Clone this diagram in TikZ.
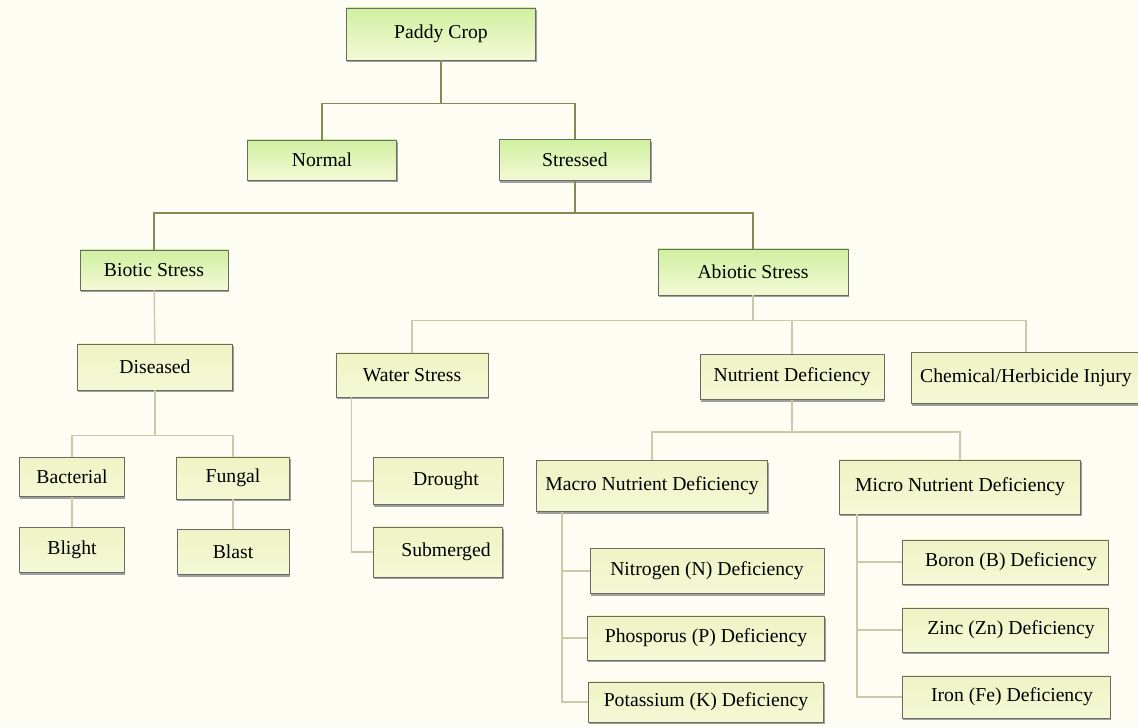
\documentclass[tikz,border=0pt]{standalone}
\usepackage{fontspec}
\setmainfont{Liberation Serif}
\usepackage{tikz}
\usepackage{xcolor}
\usetikzlibrary{positioning, shadows}
\definecolor{paddybg}{RGB}{253, 253, 244}
\definecolor{paddyedge}{RGB}{105, 108, 96}
\definecolor{paddygreen}{RGB}{208, 240, 160}
\definecolor{paddypale}{RGB}{244, 249, 214}
\definecolor{paddyyellow}{RGB}{238, 244, 196}
\definecolor{paddyline}{RGB}{128, 140, 84}
\definecolor{paddylight}{RGB}{196, 204, 170}

\begin{document}
\begin{tikzpicture}[x=0.025cm, y=-0.025cm,
    every node/.style={align=center, font=\fontsize{14}{16}\selectfont},
    box/.style={draw=paddyedge, line width=0.6pt, top color=paddygreen, bottom color=paddypale,
      inner sep=2pt, drop shadow={shadow xshift=0.7pt, shadow yshift=-1.5pt, opacity=0.75}},
    palebox/.style={box, top color=paddyyellow, bottom color=paddypale},
    link/.style={draw=paddyline, line width=1.2pt},
    lightlink/.style={draw=paddylight, line width=1pt}]
    \fill[paddybg] (0,0) rectangle (1138,727);
    \clip (0,0) rectangle (1138,727);

    % top levels
    \node[box, minimum width=4.725cm, minimum height=1.3cm] (paddy) at (441,34) {Paddy Crop};
    \node[box, minimum width=3.725cm, minimum height=1cm] (normal) at (322,160) {Normal};
    \node[box, minimum width=3.775cm, minimum height=1.025cm] (stressed) at (575,160) {Stressed};
    \node[box, minimum width=3.7cm, minimum height=1cm] (biotic) at (154,270) {Biotic Stress};
    \node[box, minimum width=4.75cm, minimum height=1.15cm] (abiotic) at (753,272) {Abiotic Stress};

    % biotic branch
    \node[palebox, minimum width=3.875cm, minimum height=1.15cm] (diseased) at (155,367) {Diseased};
    \node[palebox, minimum width=2.625cm, minimum height=0.975cm] (bacterial) at (72,477) {Bacterial};
    \node[palebox, minimum width=2.825cm, minimum height=1.05cm] (fungal) at (233,478) {Fungal};
    \node[palebox, minimum width=2.625cm, minimum height=1.125cm] (blight) at (72,550) {Blight};
    \node[palebox, minimum width=2.8cm, minimum height=1.125cm] (blast) at (233,552) {Blast};

    % abiotic branch
    \node[palebox, minimum width=3.8cm, minimum height=1.1cm] (water) at (412,375) {Water Stress};
    \node[palebox, minimum width=4.6cm, minimum height=1.125cm] (nutrient) at (792,377) {Nutrient Deficiency};
    \node[palebox, minimum width=5.75cm, minimum height=1.275cm] (chemical) at (1026,378) {Chemical/Herbicide Injury};
    \node[palebox, minimum width=3.25cm, minimum height=1.175cm] (drought) at (438,481) {\hspace{0.4cm}Drought};
    \node[palebox, minimum width=3.225cm, minimum height=1.25cm] (submerged) at (438,552) {\hspace{0.4cm}Submerged};

    % nutrient deficiency
    \node[palebox, minimum width=5.775cm, minimum height=1.275cm] (macro) at (652,486) {Macro Nutrient Deficiency};
    \node[palebox, minimum width=6.025cm, minimum height=1.35cm] (micro) at (960,487) {Micro Nutrient Deficiency};
    \node[palebox, minimum width=5.85cm, minimum height=1.125cm] (nitrogen) at (707,571) {Nitrogen (N) Deficiency};
    \node[palebox, minimum width=5.925cm, minimum height=1.1cm] (phosporus) at (706,638) {Phosporus (P) Deficiency};
    \node[palebox, minimum width=5.875cm, minimum height=1cm] (potassium) at (706,702) {Potassium (K) Deficiency};
    \node[palebox, minimum width=5.15cm, minimum height=1.1cm] (boron) at (1005,562) {\hspace{0.3cm}Boron (B) Deficiency};
    \node[palebox, minimum width=5.15cm, minimum height=1.1cm] (zinc) at (1005,630) {\hspace{0.3cm}Zinc (Zn) Deficiency};
    \node[palebox, minimum width=5.2cm, minimum height=1.05cm] (iron) at (1006,697) {\hspace{0.3cm}Iron (Fe) Deficiency};

    % connectors
    \draw[link] (paddy.south) -- ++(0,43) -| (normal.north);
    \draw[link] (paddy.south) -- ++(0,43) -| (stressed.north);
    \draw[link] (stressed.south) -- ++(0,32) -| (biotic.north);
    \draw[link] (stressed.south) -- ++(0,32) -| (abiotic.north);
    \draw[lightlink] (biotic) -- (diseased);
    \draw[lightlink] (abiotic.south) -- ++(0,25) -| (water.north);
    \draw[lightlink] (abiotic.south) -- ++(0,25) -| (nutrient.north);
    \draw[lightlink] (abiotic.south) -- ++(0,25) -| (chemical.north);
    \draw[lightlink] (diseased.south) -- ++(0,45) -| (bacterial.north);
    \draw[lightlink] (diseased.south) -- ++(0,45) -| (fungal.north);
    \draw[lightlink] (bacterial) -- (blight);
    \draw[lightlink] (fungal) -- (blast);
    \draw[lightlink] ([xshift=0.4cm]water.south west) |- (drought.west);
    \draw[lightlink] ([xshift=0.4cm]water.south west) |- (submerged.west);
    \draw[lightlink] (nutrient.south) -- ++(0,32) -| (macro.north);
    \draw[lightlink] (nutrient.south) -- ++(0,32) -| (micro.north);
    \draw[lightlink] ([xshift=0.65cm]macro.south west) |- (nitrogen.west);
    \draw[lightlink] ([xshift=0.65cm]macro.south west) |- (phosporus.west);
    \draw[lightlink] ([xshift=0.65cm]macro.south west) |- (potassium.west);
    \draw[lightlink] ([xshift=0.45cm]micro.south west) |- (boron.west);
    \draw[lightlink] ([xshift=0.45cm]micro.south west) |- (zinc.west);
    \draw[lightlink] ([xshift=0.45cm]micro.south west) |- (iron.west);
  \end{tikzpicture}
\end{document}
